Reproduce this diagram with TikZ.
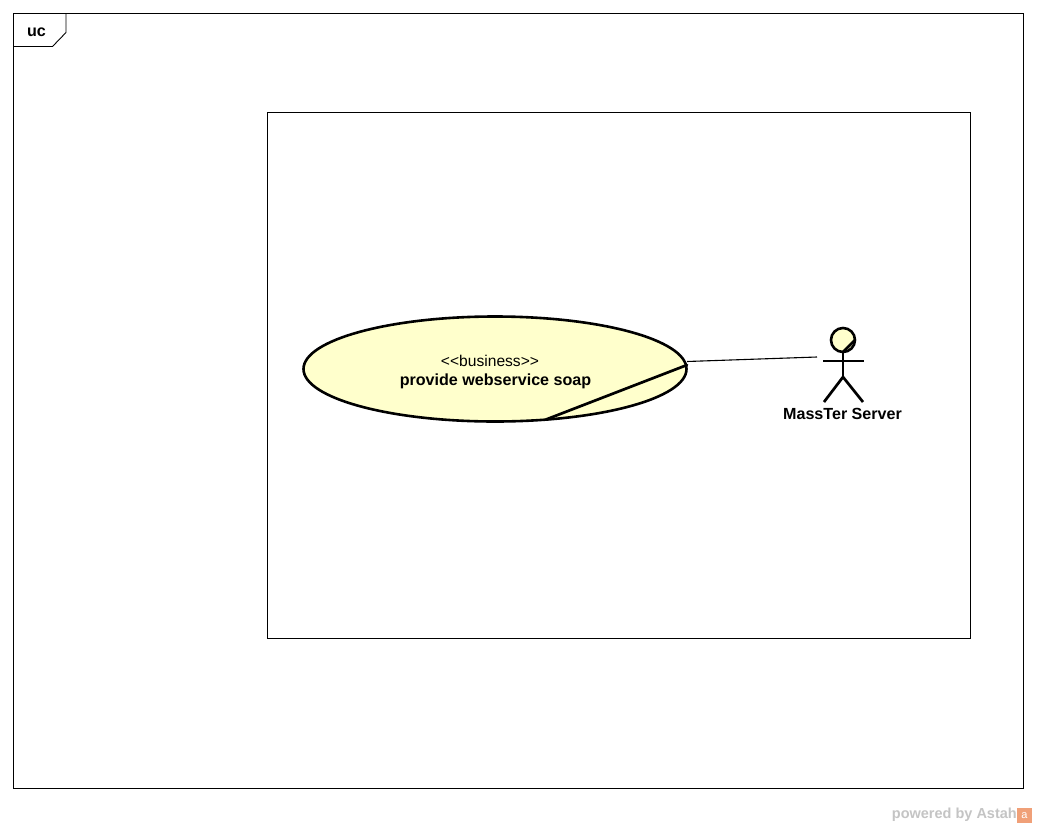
\documentclass[tikz,border=0pt]{standalone}
\usepackage{fontspec}
\setmainfont{Liberation Sans}
\usetikzlibrary{shapes.geometric}
\definecolor{ucfill}{HTML}{FFFFCC}
\definecolor{wm}{HTML}{C4C4C4}
\definecolor{astah}{HTML}{F0A078}
\tikzset{
  frameline/.style={draw=black,line width=0.9pt},
  heavy/.style={draw=black,line width=2.6pt},
  heavyb/.style={draw=black,line width=2.7pt,line cap=round},
  lbl/.style={inner sep=0pt,font=\fontsize{16.1}{18}\selectfont\bfseries}
}
\begin{document}
\begin{tikzpicture}[x=1pt,y=-1pt]
\useasboundingbox (0,0) rectangle (1037,828);
\fill[white] (0,0) rectangle (1037,828);
\node[frameline,minimum width=1010pt,minimum height=775pt,inner sep=0pt] (frame) at (518.5,401) {};
\draw[frameline] (13.5,46.5) -- (52.5,46.5) -- (66,32.5) -- (66,13.5);
\node[lbl] (uc) at (36.5,32) {uc};
\node[frameline,minimum width=703pt,minimum height=526pt,inner sep=0pt] (boundary) at (619,375.5) {};
\node[ellipse,heavy,fill=ucfill,minimum width=383pt,minimum height=105pt,inner sep=0pt] (uc1) at (495,369) {};
\coordinate (slashA) at (546,419.5);
\coordinate (slashB) at (687,365);
\draw[heavyb] (slashA) -- (slashB);
\node[inner sep=0pt,font=\fontsize{15.6}{18}\selectfont] (stereo) at (490,360.5) {<{}<business>{}>};
\node[lbl] (ucname) at (495.5,381) {provide webservice soap};
% actor
\node[circle,heavy,fill=ucfill,minimum size=24pt,inner sep=0pt] (head) at (843,340) {};
\coordinate (hipA) at (843,377);
\coordinate (neck) at (843,352);
\coordinate (slashC) at (855,340);
\coordinate (armL) at (823,361);
\coordinate (armR) at (864,361);
\coordinate (legL) at (824,402);
\coordinate (legR) at (863,402);
\draw[heavyb] (neck) -- (slashC);
\draw[heavyb,line cap=butt] (neck) -- (hipA);
\draw[heavyb,line cap=butt] (armL) -- (armR);
\draw[heavyb,line cap=butt] (legL) -- (hipA) -- (legR);
\node[lbl] (actor) at (842.5,413.5) {MassTer Server};
% association
\coordinate (assocA) at (687,361.5);
\coordinate (assocB) at (817,357);
\draw[black,line width=1.1pt] (assocA) -- (assocB);
% watermark
\node[anchor=east,inner sep=0pt,text=wm,font=\fontsize{14.5}{16}\selectfont\bfseries] (wmark) at (1017,815) {powered by Astah};
\node[fill=astah,minimum size=15pt,inner sep=0pt,text=white,font=\fontsize{11}{11}\selectfont] (logo) at (1024.5,815.5) {a};
\end{tikzpicture}
\end{document}
